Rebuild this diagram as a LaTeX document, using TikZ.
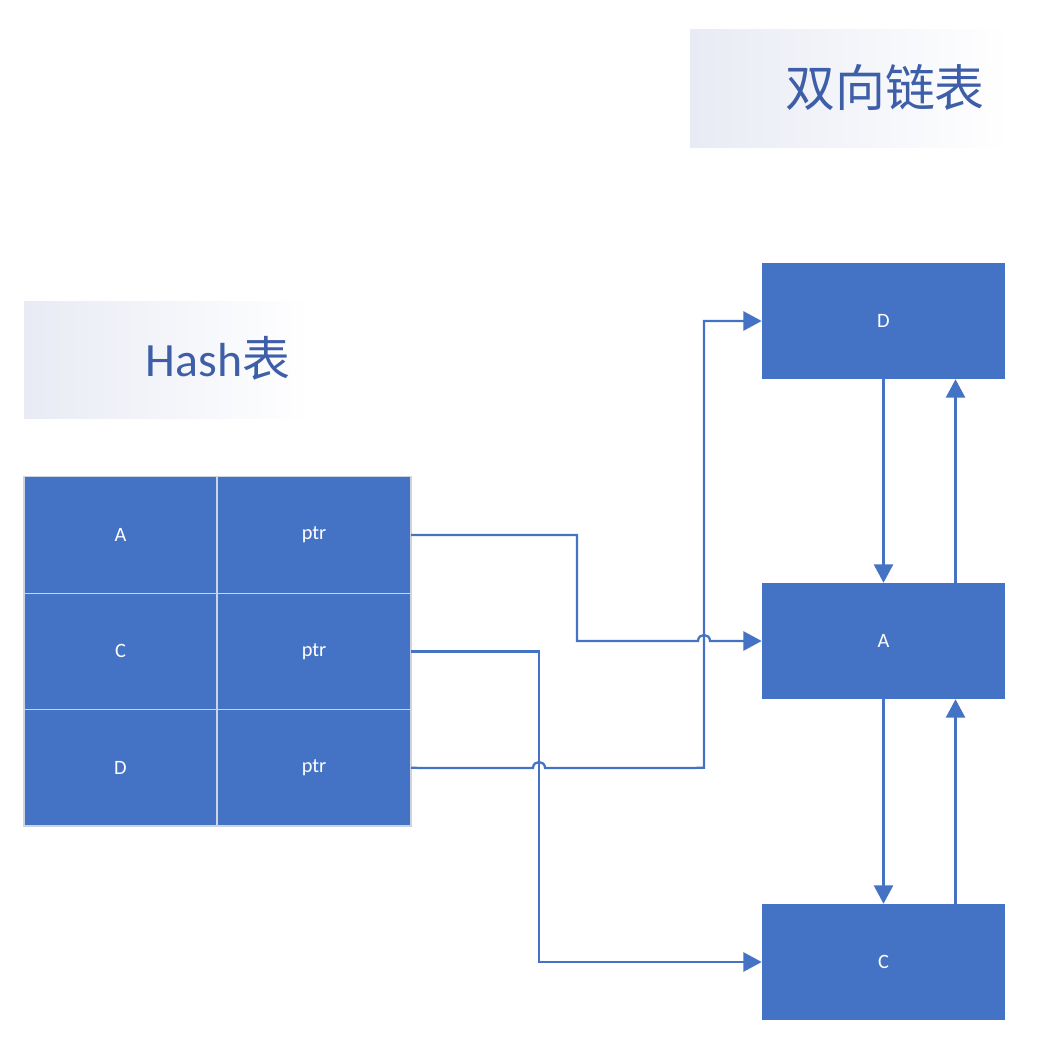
\documentclass[tikz,border=0pt]{standalone}
\usepackage{fontspec}
\setmainfont{Carlito}
\newfontfamily\cjk{Noto Sans CJK SC}
\usepackage{xcolor}
\usepackage{tikz}
\usetikzlibrary{arrows.meta, positioning, calc}

\definecolor{boxblue}{HTML}{4472C4}
\definecolor{titleblue}{RGB}{62,95,168}
\definecolor{titlebg}{RGB}{232,235,244}
\definecolor{gridline}{RGB}{205,211,224}

\begin{document}
\begin{tikzpicture}[
    x=0.025cm, y=-0.025cm,
    cell/.style={rectangle, draw=gridline, line width=1pt, fill=boxblue, outer sep=0pt,
        minimum height=2.91cm, text=white, font=\fontsize{14.5}{16}\selectfont},
    keycell/.style={cell, minimum width=4.825cm},
    ptrcell/.style={cell, minimum width=4.85cm},
    item/.style={rectangle, fill=boxblue, minimum width=6.075cm, minimum height=2.9cm,
        text=white, font=\fontsize{14.5}{16}\selectfont},
    title/.style={text=titleblue, inner sep=0pt},
    arrow/.style={draw=boxblue, line width=1.6pt, -{Triangle[length=4.6mm, width=4.8mm]}},
    link/.style={draw=boxblue, line width=1.6pt}
]
\useasboundingbox (0,0) rectangle (1045,1056);

% titles
\shade[left color=titlebg, right color=white] (690,30) rectangle (1010,148);
\node[title, font=\fontsize{35.5}{38}\selectfont\cjk] (tlist) at (885,88) {双向链表};
\shade[left color=titlebg, right color=white] (24,302) rectangle (312,418);
\node[title, font=\fontsize{34}{36}\selectfont] (thash) at (218,358) {Hash{\cjk 表}};

% hash table
\node[keycell] (kA) at (120.5,535) {A};
\node[ptrcell, right=0pt of kA] (pA) {ptr};
\node[keycell, below=0pt of kA] (kC) {C};
\node[ptrcell, right=0pt of kC] (pC) {ptr};
\node[keycell, below=0pt of kC] (kD) {D};
\node[ptrcell, right=0pt of kD] (pD) {ptr};

% doubly linked list
\node[item] (lD) at (883.5,321) {D};
\node[item] (lA) at (883.5,641) {A};
\node[item] (lC) at (883.5,962) {C};

\draw[arrow] (lD.south) -- (lA.north);
\draw[arrow] ([xshift=1.8cm]lA.north) -- ([xshift=1.8cm]lD.south);
\draw[arrow] (lA.south) -- (lC.north);
\draw[arrow] ([xshift=1.8cm]lC.north) -- ([xshift=1.8cm]lA.south);

% pointers
\coordinate (hopA) at (704,641);
\coordinate (hopD) at (539,768);
\draw[arrow] (pA.east) -- (577,535) |- ($(hopA)-(6,0)$)
    .. controls +(0,-8) and +(0,-8) .. ($(hopA)+(6,0)$) -- (lA.west);
\draw[arrow] (pC.east) -- (hopD |- pC.east) |- (lC.west);
\draw[arrow] (pD.east) -- ($(hopD)-(6,0)$)
    .. controls +(0,-8) and +(0,-8) .. ($(hopD)+(6,0)$) -- (hopA |- pD.east) |- (lD.west);

\end{tikzpicture}
\end{document}
